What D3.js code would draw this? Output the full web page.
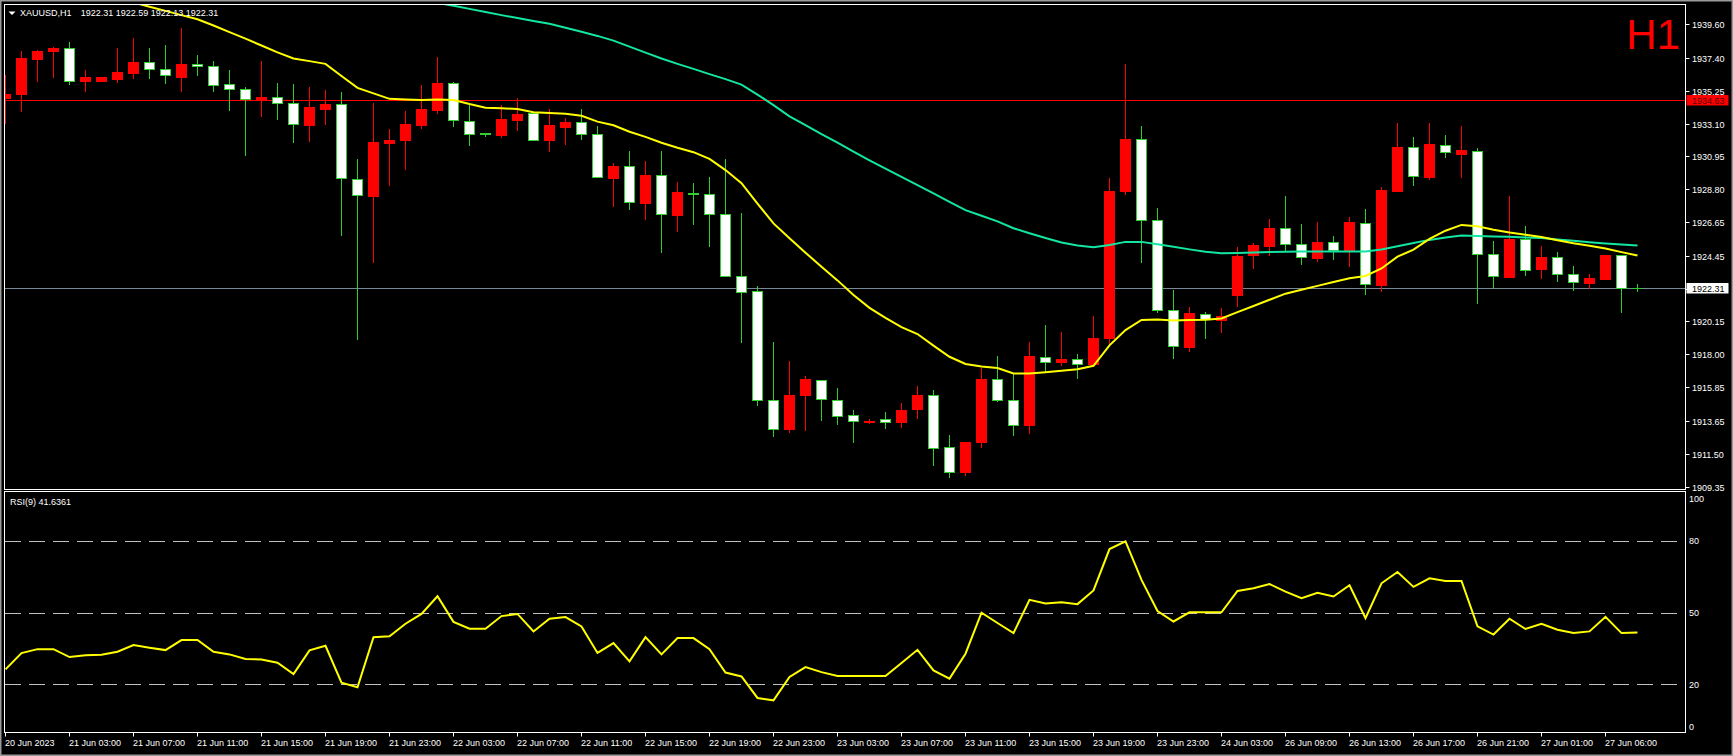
<!DOCTYPE html>
<html><head><meta charset="utf-8">
<script src="https://cdn.jsdelivr.net/npm/d3@7"></script>
<style>html,body{margin:0;padding:0;background:#000;overflow:hidden}svg{display:block}</style>
</head><body><svg id="c" width="1733" height="756"></svg>
<script>
// ---------------- DATA ----------------
const symbolTitle = "XAUUSD,H1";
const lastOHLC = ["1922.31","1922.59","1922.13","1922.31"];
const timeframeLabel = "H1";
const rsiTitle = "RSI(9) 41.6361";

const opens = [1934.80,1935.06,1937.33,1937.85,1938.03,1935.91,1935.91,1936.02,1936.43,1937.11,
1936.66,1936.17,1936.98,1936.85,1935.68,1935.35,1934.71,1934.83,1934.43,1933.01,
1934.06,1934.37,1929.46,1928.39,1931.84,1932.05,1933.01,1933.99,1935.74,1933.26,
1932.46,1932.38,1933.36,1933.78,1932.05,1932.90,1933.19,1932.41,1929.57,1930.31,
1927.93,1929.72,1927.15,1928.53,1928.48,1927.17,1923.12,1922.14,1915.01,1913.09,
1915.31,1916.32,1915.01,1914.00,1913.54,1913.76,1913.54,1914.41,1915.33,1911.91,
1910.27,1912.23,1916.38,1915.00,1913.39,1917.82,1917.47,1917.68,1917.38,1919.04,
1928.72,1932.07,1926.78,1920.91,1918.49,1920.63,1920.26,1921.89,1924.51,1925.12,
1926.25,1925.21,1924.33,1925.32,1924.84,1926.62,1922.55,1928.72,1931.55,1929.63,
1931.70,1931.14,1931.29,1924.55,1923.09,1925.55,1923.57,1924.36,1923.24,1922.70,
1922.94,1924.49,1922.31];
const highs = [1936.28,1937.85,1937.92,1938.13,1938.44,1936.61,1936.15,1938.05,1938.70,1938.03,
1938.25,1939.36,1937.59,1937.20,1936.61,1935.48,1937.20,1935.76,1935.70,1935.50,
1935.30,1935.15,1930.77,1934.43,1932.75,1933.93,1935.63,1937.46,1935.83,1934.30,
1932.47,1934.32,1934.78,1933.80,1934.06,1933.47,1934.06,1932.95,1930.55,1931.33,
1930.66,1931.31,1929.29,1929.22,1929.61,1930.79,1927.24,1922.47,1918.82,1917.58,
1916.60,1916.32,1915.79,1914.37,1913.76,1914.24,1914.83,1915.96,1915.68,1912.74,
1912.28,1917.10,1917.90,1916.70,1918.80,1919.93,1919.49,1918.03,1920.52,1929.57,
1937.00,1932.95,1927.60,1922.22,1921.11,1920.80,1921.02,1925.05,1925.27,1926.86,
1928.37,1926.54,1926.65,1925.75,1927.00,1927.52,1928.93,1933.16,1932.23,1933.16,
1932.36,1932.95,1931.49,1925.42,1928.37,1926.41,1925.10,1924.68,1923.79,1923.27,
1924.51,1924.49,1922.59];
const lows = [1933.13,1933.95,1935.91,1936.17,1935.70,1935.26,1935.89,1935.85,1936.09,1936.11,
1935.78,1935.26,1936.28,1935.26,1933.99,1931.05,1933.62,1933.41,1931.92,1931.99,
1933.08,1925.82,1919.02,1924.07,1929.09,1930.14,1932.84,1933.82,1932.97,1931.73,
1932.28,1932.25,1932.69,1932.00,1931.33,1931.79,1932.08,1929.59,1927.74,1927.54,
1926.89,1924.73,1926.04,1926.50,1925.06,1923.12,1918.78,1914.66,1912.63,1912.89,
1913.02,1913.68,1913.41,1912.23,1913.50,1913.15,1913.24,1913.83,1910.77,1909.97,
1910.12,1911.91,1914.92,1912.74,1912.85,1916.88,1917.31,1916.42,1917.38,1918.62,
1928.50,1924.07,1920.74,1917.73,1918.25,1919.10,1919.43,1921.17,1923.68,1924.53,
1924.81,1923.94,1924.12,1924.27,1923.81,1921.98,1922.15,1928.72,1929.11,1929.46,
1930.94,1929.63,1921.35,1922.33,1923.09,1923.20,1922.98,1922.81,1922.20,1922.33,
1922.90,1920.74,1922.13];
const closes = [1935.04,1937.40,1937.85,1938.05,1935.91,1936.13,1936.13,1936.48,1937.13,1936.66,
1936.27,1937.00,1936.85,1935.65,1935.35,1934.73,1934.85,1934.43,1933.06,1934.19,
1934.39,1929.57,1928.42,1931.90,1932.03,1933.08,1934.06,1935.76,1933.32,1932.41,
1932.43,1933.39,1933.73,1932.01,1932.99,1933.21,1932.41,1929.59,1930.33,1927.96,
1929.74,1927.17,1928.63,1928.50,1927.17,1923.12,1922.07,1915.01,1913.11,1915.36,
1916.40,1915.05,1913.96,1913.61,1913.65,1913.56,1914.35,1915.35,1911.86,1910.29,
1912.28,1916.40,1914.98,1913.39,1917.90,1917.49,1917.71,1917.40,1919.04,1928.69,
1932.10,1926.78,1920.87,1918.53,1920.72,1920.34,1920.52,1924.46,1925.16,1926.30,
1925.23,1924.38,1925.34,1924.86,1926.65,1922.59,1928.76,1931.55,1929.68,1931.77,
1931.25,1931.38,1924.55,1923.11,1925.55,1923.53,1924.38,1923.27,1922.72,1922.98,
1924.51,1922.33,1922.31];

// yellow (fast) moving average, null where above the visible window
const maFast = [null,null,null,null,null,null,null,null,
1941.03,1940.75,1940.48,1940.20,1939.93,1939.52,1939.09,1938.66,1938.21,1937.76,
1937.36,1937.19,1937.01,1936.22,1935.44,1935.08,1934.72,1934.68,1934.65,1934.68,
1934.65,1934.38,1934.14,1934.10,1934.06,1933.84,1933.79,1933.74,1933.61,1933.23,
1932.99,1932.57,1932.23,1931.85,1931.52,1931.23,1930.79,1930.06,1929.20,1927.87,
1926.57,1925.60,1924.65,1923.73,1922.84,1921.88,1921.04,1920.39,1919.78,1919.33,
1918.57,1917.84,1917.37,1917.21,1917.10,1916.75,1916.75,1916.83,1916.92,1917.03,
1917.25,1918.59,1919.59,1920.25,1920.28,1920.21,1920.24,1920.27,1920.35,1920.76,
1921.16,1921.57,1921.97,1922.23,1922.48,1922.73,1922.98,1923.13,1923.62,1924.39,
1924.85,1925.55,1926.09,1926.47,1926.38,1926.15,1925.97,1925.83,1925.68,1925.46,
1925.27,1925.11,1924.92,1924.69,1924.47];

// teal (slow) moving average
const maSlow = [null,null,null,null,null,null,null,null,null,null,
null,null,null,null,null,null,null,null,null,null,
null,null,null,null,null,null,null,
1941.00,1940.82,1940.61,1940.40,1940.20,1940.01,1939.82,1939.63,1939.38,1939.11,
1938.84,1938.53,1938.14,1937.75,1937.36,1937.01,1936.68,1936.34,1936.01,1935.65,
1935.00,1934.31,1933.58,1933.00,1932.42,1931.85,1931.27,1930.70,1930.15,1929.62,
1929.08,1928.53,1927.98,1927.44,1927.07,1926.70,1926.25,1925.93,1925.61,1925.32,
1925.13,1925.01,1925.16,1925.36,1925.36,1925.20,1925.04,1924.87,1924.71,1924.62,
1924.64,1924.66,1924.69,1924.72,1924.73,1924.73,1924.73,1924.73,1924.73,1924.86,
1925.07,1925.29,1925.49,1925.65,1925.77,1925.75,1925.72,1925.69,1925.65,1925.61,
1925.52,1925.43,1925.34,1925.26,1925.19,1925.12];

const rsiValues = [26.25,33.06,34.7,34.7,31.4,32.1,32.4,33.6,36.4,35.3,
34.3,38.5,38.5,33.6,32.5,30.6,30.4,29.0,24.3,34.2,
36.1,20.7,18.75,39.7,40.1,45.3,49.4,56.8,46.1,43.2,
43.2,48.5,49.4,42.1,47.4,48.1,44.2,33.1,37.2,29.6,
39.7,32.5,39.3,39.3,34.7,24.9,23.3,14.3,13.3,23.1,
27.2,25.1,23.5,23.5,23.5,23.5,28.9,34.4,25.8,22.4,
32.8,49.9,45.6,41.4,55.3,53.75,54.3,53.5,59.2,76.5,
79.7,63.6,50.6,46.25,50.1,50.1,50.1,59.0,60.1,61.9,
58.75,56.0,58.2,56.7,61.4,47.6,62.2,66.9,60.7,64.3,
63.2,63.2,44.2,40.8,47.4,43.1,45.3,42.8,41.4,42.1,
48.2,41.4,41.64];

const timeLabels = ["20 Jun 2023","21 Jun 03:00","21 Jun 07:00","21 Jun 11:00","21 Jun 15:00",
"21 Jun 19:00","21 Jun 23:00","22 Jun 03:00","22 Jun 07:00","22 Jun 11:00","22 Jun 15:00",
"22 Jun 19:00","22 Jun 23:00","23 Jun 03:00","23 Jun 07:00","23 Jun 11:00","23 Jun 15:00",
"23 Jun 19:00","23 Jun 23:00","24 Jun 03:00","26 Jun 09:00","26 Jun 13:00","26 Jun 17:00",
"26 Jun 21:00","27 Jun 01:00","27 Jun 06:00"];
const barsPerTimeLabel = 4;

const priceTicks = ["1939.60","1937.40","1935.25","1933.10","1930.95","1928.80","1926.65",
"1924.45","1922.30","1920.15","1918.00","1915.85","1913.65","1911.50","1909.35"];
const hLinePrice = 1934.63;
const bidPrice = 1922.31;
const rsiLevels = [80, 50, 20];
const rsiTickLabels = [100, 80, 50, 20, 0];

// ---------------- LAYOUT ----------------
const W = 1733, H = 756;
const L = 4.5, R = 1685.5;
const mainTop = 4.5, mainBot = 489.5;
const rsiTop = 491.5, rsiBot = 732.5;
const FONT = "'Liberation Sans', Arial, sans-serif";
const UP = "#ff0000", DN = "#32cd32";

const svg = d3.select("#c");
svg.append("rect").attr("width", W).attr("height", H).attr("fill", "#000");

const x = d3.scaleLinear().domain([0, 102]).range([5.5, 5.5 + 16 * 102]);
const y = d3.scaleLinear().domain([1909.35, 1939.60]).range([486.5, 24.3]);
const yr = d3.scaleLinear().domain([0, 100]).range([732.2, 492.8]);

const defs = svg.append("defs");
defs.append("clipPath").attr("id", "clipMain").append("rect")
  .attr("x", L + 0.5).attr("y", mainTop + 0.5).attr("width", R - L - 1).attr("height", mainBot - mainTop - 1);
defs.append("clipPath").attr("id", "clipRsi").append("rect")
  .attr("x", L + 0.5).attr("y", rsiTop + 0.5).attr("width", R - L - 1).attr("height", rsiBot - rsiTop - 1);

// ---------------- MAIN PANEL ----------------
const gMain = svg.append("g").attr("clip-path", "url(#clipMain)");

// horizontal lines
gMain.append("line").attr("x1", L).attr("x2", R)
  .attr("y1", Math.round(y(hLinePrice)) + 0.5).attr("y2", Math.round(y(hLinePrice)) + 0.5)
  .attr("stroke", "#ff0000").attr("stroke-width", 1);
gMain.append("line").attr("x1", L).attr("x2", R)
  .attr("y1", Math.round(y(bidPrice)) + 0.5).attr("y2", Math.round(y(bidPrice)) + 0.5)
  .attr("stroke", "#778899").attr("stroke-width", 1);

const bars = d3.range(opens.length).map(i => ({
  i, o: opens[i], h: highs[i], l: lows[i], c: closes[i], up: closes[i] > opens[i]
}));

const gC = gMain.append("g");
// wicks
gC.selectAll("line.wick").data(bars).join("line").attr("class", "wick")
  .attr("x1", d => x(d.i)).attr("x2", d => x(d.i))
  .attr("y1", d => Math.round(y(d.h))).attr("y2", d => Math.round(y(d.l)) + 1)
  .attr("stroke", d => d.up ? UP : DN).attr("stroke-width", 1);
// bodies
bars.forEach(d => {
  const top = Math.round(y(Math.max(d.o, d.c)));
  const bot = Math.round(y(Math.min(d.o, d.c)));
  const xl = x(d.i) - 5.5;
  if (d.up) {
    gC.append("rect").attr("x", xl).attr("y", top).attr("width", 11)
      .attr("height", Math.max(1, bot - top + 1)).attr("fill", UP);
  } else if (bot - top < 2) {
    gC.append("rect").attr("x", xl).attr("y", top).attr("width", 11)
      .attr("height", Math.max(1, bot - top + 1)).attr("fill", DN);
  } else {
    gC.append("rect").attr("x", xl + 0.5).attr("y", top + 0.5).attr("width", 10)
      .attr("height", bot - top).attr("fill", "#ffffff").attr("stroke", DN).attr("stroke-width", 1);
  }
});

// moving averages
const lineGen = arr => d3.line().defined(i => arr[i] != null).x(i => x(i)).y(i => y(arr[i]));
const idx = d3.range(opens.length);
gMain.append("path").datum(idx).attr("d", lineGen(maSlow))
  .attr("fill", "none").attr("stroke", "#12e6a2").attr("stroke-width", 2);
gMain.append("path").datum(idx).attr("d", lineGen(maFast))
  .attr("fill", "none").attr("stroke", "#ffff00").attr("stroke-width", 2);

// H1 label
svg.append("text").attr("x", 1680).attr("y", 49).attr("text-anchor", "end")
  .attr("font-family", FONT).attr("font-size", 42).attr("fill", "#ff0000").text(timeframeLabel);

// header
svg.append("path").attr("d", "M8.5,11.5 L15.5,11.5 L12,15 Z").attr("fill", "#ffffff");
svg.append("text").attr("x", 20).attr("y", 16).attr("font-family", FONT).attr("font-size", 9)
  .attr("fill", "#ffffff").text(symbolTitle);
svg.append("text").attr("x", 80.7).attr("y", 16).attr("font-family", FONT).attr("font-size", 9)
  .attr("fill", "#ffffff").text(lastOHLC.join(" "));

// ---------------- RSI PANEL ----------------
const gR = svg.append("g").attr("clip-path", "url(#clipRsi)");
gR.selectAll("line.lvl").data(rsiLevels).join("line").attr("class", "lvl")
  .attr("x1", L + 0.5).attr("x2", R)
  .attr("y1", d => Math.round(yr(d)) + 0.5).attr("y2", d => Math.round(yr(d)) + 0.5)
  .attr("stroke", "#c0c0c0").attr("stroke-width", 1).attr("stroke-dasharray", "16,8");
gR.append("path").datum(idx)
  .attr("d", d3.line().x(i => x(i)).y(i => yr(rsiValues[i])))
  .attr("fill", "none").attr("stroke", "#ffff00").attr("stroke-width", 2);
svg.append("text").attr("x", 10).attr("y", 504.5).attr("font-family", FONT).attr("font-size", 9)
  .attr("fill", "#ffffff").text(rsiTitle);

// ---------------- FRAMES ----------------
svg.append("rect").attr("x", L).attr("y", mainTop).attr("width", R - L).attr("height", mainBot - mainTop)
  .attr("fill", "none").attr("stroke", "#ffffff").attr("stroke-width", 1);
svg.append("rect").attr("x", L).attr("y", rsiTop).attr("width", R - L).attr("height", rsiBot - rsiTop)
  .attr("fill", "none").attr("stroke", "#ffffff").attr("stroke-width", 1);
svg.append("rect").attr("x", 0.75).attr("y", 0.75).attr("width", W - 1.5).attr("height", H - 1.5)
  .attr("fill", "none").attr("stroke", "#9a9a9a").attr("stroke-width", 1.5);

// ---------------- PRICE AXIS ----------------
const gP = svg.append("g");
priceTicks.forEach(t => {
  const yy = Math.round(y(+t)) + 0.5;
  gP.append("line").attr("x1", R).attr("x2", R + 4).attr("y1", yy).attr("y2", yy)
    .attr("stroke", "#ffffff").attr("stroke-width", 1);
  gP.append("text").attr("x", 1692).attr("y", yy + 3.3).attr("font-family", FONT).attr("font-size", 9)
    .attr("fill", "#ffffff").text(t);
});
// price boxes
function priceBox(p, bg, fg) {
  const yy = y(p);
  gP.append("rect").attr("x", 1686.5).attr("y", Math.round(yy) - 5).attr("width", 42).attr("height", 10.5)
    .attr("fill", bg);
  gP.append("text").attr("x", 1692).attr("y", Math.round(yy) + 3.8).attr("font-family", FONT).attr("font-size", 9)
    .attr("fill", fg).text(p.toFixed(2));
}
priceBox(hLinePrice, "#ff0000", "#5c0000");
priceBox(bidPrice, "#ffffff", "#000000");

// RSI axis labels
rsiTickLabels.forEach(v => {
  let yy = yr(v);
  yy = Math.max(rsiTop + 7.5, Math.min(rsiBot - 6, yy));
  gP.append("text").attr("x", 1689).attr("y", yy + 3.3).attr("font-family", FONT).attr("font-size", 9)
    .attr("fill", "#ffffff").text(v);
});

// ---------------- TIME AXIS ----------------
const gT = svg.append("g");
timeLabels.forEach((t, k) => {
  const xx = x(k * barsPerTimeLabel);
  gT.append("line").attr("x1", xx).attr("x2", xx).attr("y1", rsiBot).attr("y2", rsiBot + 4)
    .attr("stroke", "#ffffff").attr("stroke-width", 1);
  gT.append("text").attr("x", xx - 0.5).attr("y", 746).attr("font-family", FONT).attr("font-size", 9)
    .attr("fill", "#ffffff").text(t);
});
</script>
</body></html>
